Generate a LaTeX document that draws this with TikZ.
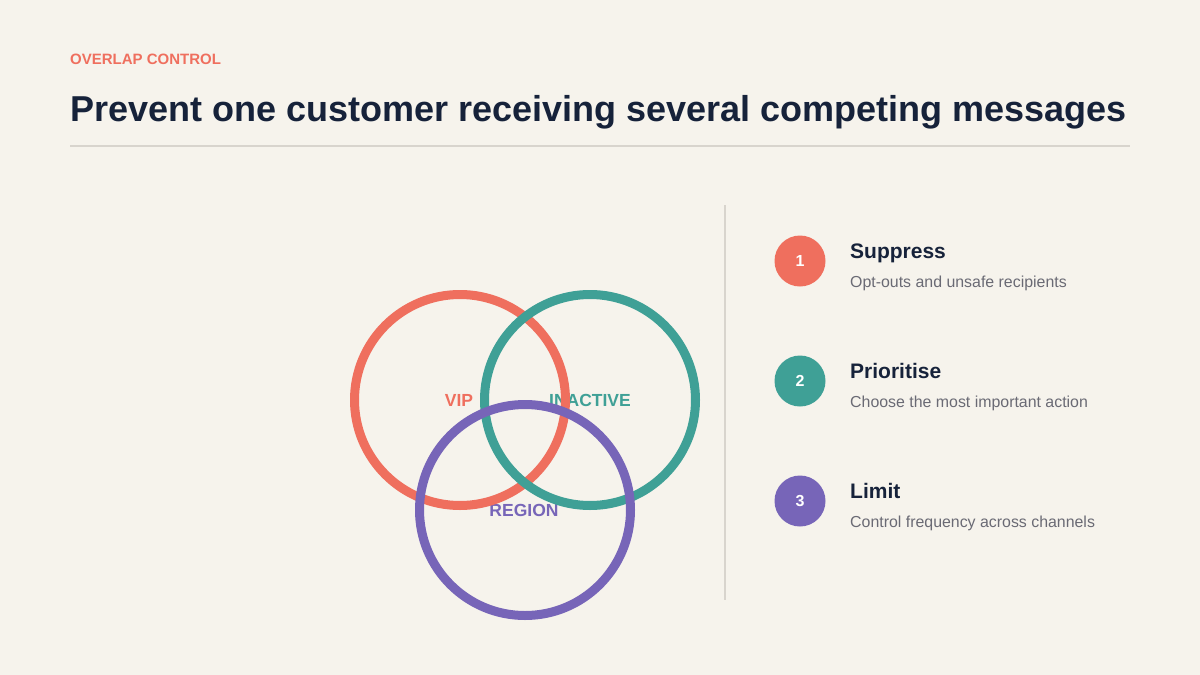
\documentclass[tikz,border=0pt]{standalone}
\usepackage{fontspec}
\setmainfont{Liberation Sans}
\definecolor{bg}{HTML}{F6F3EC}
\definecolor{coral}{HTML}{EF6F5E}
\definecolor{teal}{HTML}{3FA096}
\definecolor{purp}{HTML}{7765B8}
\definecolor{navy}{HTML}{16223A}
\definecolor{subgray}{HTML}{6A6A74}
\definecolor{rulegray}{HTML}{D8D4CD}
\tikzset{
  ring/.style={draw=#1, line width=9pt},
  vlabel/.style={text=#1, font=\fontsize{17.5}{20}\selectfont\bfseries, inner sep=0pt},
  numdot/.style={circle, fill=#1, minimum size=51pt, inner sep=0pt, text=white, font=\fontsize{16}{18}\selectfont\bfseries},
  head/.style={anchor=base west, inner sep=0pt, text=navy, font=\fontsize{21}{24}\selectfont\bfseries},
  sub/.style={anchor=base west, inner sep=0pt, text=subgray, font=\fontsize{15.9}{19}\selectfont},
}
\begin{document}
\begin{tikzpicture}[x=1pt,y=-1pt]
\fill[bg] (0,0) rectangle (1200,675);
\useasboundingbox (0,0) rectangle (1200,675);
\node[anchor=base west, inner sep=0pt, text=coral, font=\fontsize{15}{18}\selectfont\bfseries] (kicker) at (70,64) {OVERLAP CONTROL};
\node[anchor=base west, inner sep=0pt, text=navy, font=\fontsize{36}{42}\selectfont\bfseries] (title) at (70,121) {Prevent one customer receiving several competing messages};
\coordinate (r1) at (70,146);
\coordinate (r2) at (1130,146);
\draw[rulegray, line width=2pt] (r1) -- (r2);
\coordinate (v1) at (725,205);
\coordinate (v2) at (725,600);
\draw[rulegray, line width=2.5pt] (v1) -- (v2);
% labels
\node[vlabel=coral] (vip) at (459,400) {VIP};
\node[vlabel=teal] (inactive) at (590,400) {INACTIVE};
\node[vlabel=purp] (region) at (524,510) {REGION};
% rings
\draw[ring=coral] (460,400) circle (105.5);
\draw[ring=teal] (590,400) circle (105.5);
\draw[ring=purp] (525,510) circle (105.5);
% list
\node[numdot=coral] (n1) at (800,261) {1};
\node[numdot=teal] (n2) at (800,381) {2};
\node[numdot=purp] (n3) at (800,501) {3};
\node[head] (h1) at (850,258) {Suppress};
\node[sub] (s1) at (850,287) {Opt-outs and unsafe recipients};
\node[head] (h2) at (850,378) {Prioritise};
\node[sub] (s2) at (850,407) {Choose the most important action};
\node[head] (h3) at (850,498) {Limit};
\node[sub] (s3) at (850,527) {Control frequency across channels};
\end{tikzpicture}
\end{document}
